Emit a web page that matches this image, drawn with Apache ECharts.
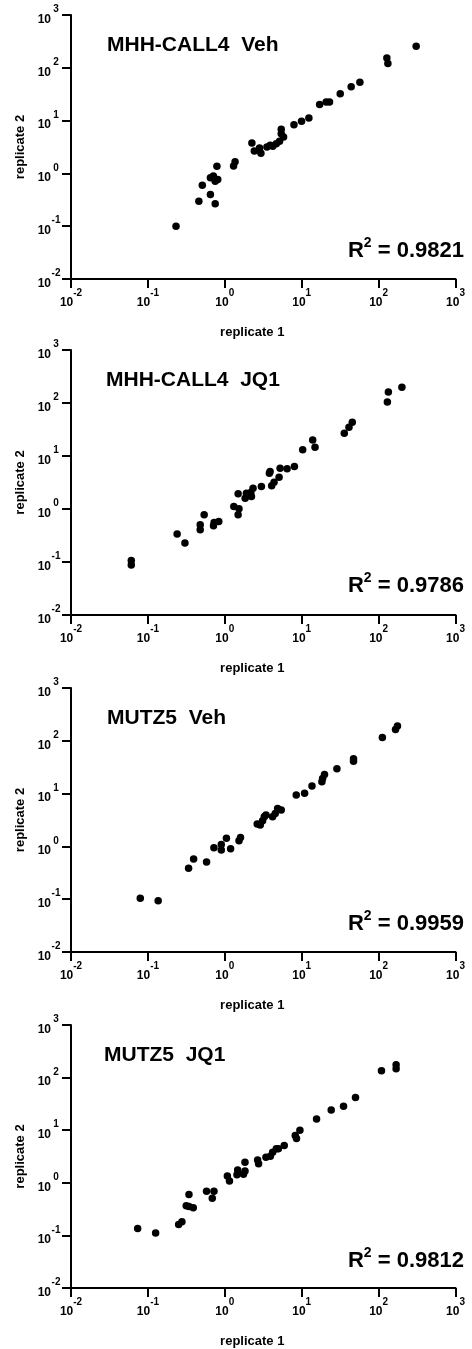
<!DOCTYPE html>
<html><head><meta charset="utf-8">
<script src="https://cdn.jsdelivr.net/npm/echarts@6/dist/echarts.min.js"></script>
<style>html,body{margin:0;padding:0;background:#fff}#c{width:472px;height:1349px}</style>
</head><body><div id="c"></div>
<script>
// ---- data ----
const panelTitles = ['MHH-CALL4  Veh', 'MHH-CALL4  JQ1', 'MUTZ5  Veh', 'MUTZ5  JQ1'];
const r2Values = ['0.9821', '0.9786', '0.9959', '0.9812'];
const xAxisTitle = 'replicate 1';
const yAxisTitle = 'replicate 2';
const axisMin = 0.01;
const axisMax = 1000;

const call4VehRep1 = [0.232,0.46,0.51,0.65,0.65,0.71,0.75,0.75,0.81,0.79,1.30,1.36,2.25,2.42,2.83,2.95,3.53,3.9,4.2,4.67,5.15,5.42,5.42,5.81,7.93,9.95,12.4,17.1,20.8,23.0,31.7,44.0,57.1,128,132,308];
const call4VehRep2 = [0.10,0.296,0.594,0.40,0.83,0.89,0.267,0.71,0.77,1.36,1.38,1.67,3.77,2.66,3.03,2.40,3.16,3.4,3.26,3.66,4.05,6.84,5.66,4.89,8.38,9.68,11.2,20.1,22.5,22.5,32.4,44.0,53.1,153,120,255];

const call4JQ1Rep1 = [0.0608,0.0608,0.240,0.303,0.479,0.479,0.539,0.713,0.726,0.835,1.31,1.53,1.49,1.49,1.84,1.91,2.22,2.18,2.33,2.99,3.80,3.88,4.07,4.37,5.08,5.24,6.46,8.04,10.3,13.9,14.9,35.8,41.2,45.5,130,134,201];
const call4JQ1Rep2 = [0.107,0.0875,0.336,0.228,0.405,0.505,0.778,0.482,0.557,0.582,1.12,1.01,0.778,1.93,1.60,1.99,1.72,2.05,2.47,2.66,4.74,5.09,2.74,3.21,3.99,5.89,5.72,6.34,13.1,20.1,14.7,26.9,34.9,43.4,105,162,198];

const mutz5VehRep1 = [0.0796,0.136,0.338,0.393,0.579,0.722,0.90,0.90,1.05,1.19,1.53,1.60,2.64,2.89,3.10,3.26,3.43,4.18,4.53,4.86,5.42,8.49,10.9,13.6,18.3,18.7,19.8,28.7,47.2,47.2,112,166,176];
const mutz5VehRep2 = [0.104,0.0938,0.384,0.575,0.505,0.944,1.09,0.853,1.42,0.904,1.28,1.48,2.65,2.54,3.06,3.65,3.92,3.65,4.22,5.25,4.88,9.37,10.1,13.9,16.8,19.4,23.1,29.5,41.2,45.6,116,164,190];

const mutz5JQ1Rep1 = [0.0736,0.126,0.251,0.277,0.315,0.342,0.342,0.389,0.579,0.687,0.723,1.08,1.15,1.44,1.47,1.75,1.83,1.83,2.67,2.75,3.43,3.91,4.19,4.68,4.97,5.93,8.24,8.56,9.48,15.6,24.2,35.0,50.1,109,169,169];
const mutz5JQ1Rep2 = [0.136,0.111,0.162,0.182,0.365,0.597,0.354,0.334,0.690,0.509,0.690,1.34,1.08,1.43,1.75,1.45,1.67,2.47,2.70,2.30,3.07,3.21,3.82,4.42,4.42,5.11,7.89,6.92,9.93,16.3,24.1,28.6,41.8,135,176,148];

// ---- layout ----
const rep1Sets = [call4VehRep1, call4JQ1Rep1, mutz5VehRep1, mutz5JQ1Rep1];
const rep2Sets = [call4VehRep2, call4JQ1Rep2, mutz5VehRep2, mutz5JQ1Rep2];
const gridTops = [15, 350, 688, 1025];
const gridHeights = [264, 265, 264, 264];
const titleLefts = [107, 106, 107, 104];
const FONT = '"Liberation Sans", Arial, Helvetica, sans-serif';

const chart = echarts.init(document.getElementById('c'), null, {renderer: 'canvas'});

const baseTok = {fontSize: 12, fontWeight: 'bold', fontFamily: FONT, color: '#000', lineHeight: 21, verticalAlign: 'bottom'};
const supTok = {fontSize: 10, fontWeight: 'bold', fontFamily: FONT, color: '#000', lineHeight: 10, verticalAlign: 'top'};
const richX = {b: baseTok, s: supTok};
const richY = {b: baseTok, s: Object.assign({}, supTok, {width: 10, align: 'left'})};
const expOf = v => Math.round(Math.log10(v));

const grids = [], xAxes = [], yAxes = [], series = [], graphics = [];
for (let i = 0; i < 4; i++) {
  grids.push({left: 71, right: 16.5, top: gridTops[i], height: gridHeights[i], containLabel: false});
  const common = {
    type: 'log', logBase: 10, min: axisMin, max: axisMax, gridIndex: i,
    splitNumber: 5,
    axisLine: {show: true, onZero: false, lineStyle: {color: '#000', width: 2}},
    axisTick: {show: true, inside: false, length: 9, lineStyle: {color: '#000', width: 2}},
    minorTick: {show: false},
    splitLine: {show: false},
    nameTextStyle: {fontFamily: FONT, fontWeight: 'bold', fontSize: 13, color: '#000'}
  };
  xAxes.push(Object.assign({}, common, {
    name: xAxisTitle, nameLocation: 'middle', nameGap: 47,
    nameTextStyle: Object.assign({}, common.nameTextStyle, {padding: [0, 22, 0, 0]}),
    axisLabel: {show: true, margin: 9, showMinLabel: true, showMaxLabel: true, hideOverlap: false,
      formatter: v => '{b|10}{s|' + expOf(v) + '}', rich: richX}
  }));
  yAxes.push(Object.assign({}, common, {
    name: yAxisTitle, nameLocation: 'middle', nameGap: 35,
    axisLabel: {show: true, margin: 10, showMinLabel: true, showMaxLabel: true, hideOverlap: false,
      formatter: v => '{b|10}{s|' + expOf(v) + '}', rich: richY}
  }));
  series.push({
    type: 'scatter', xAxisIndex: i, yAxisIndex: i,
    symbol: 'circle', symbolSize: 7.5,
    itemStyle: {color: '#000', opacity: 1},
    silent: true, animation: false,
    data: rep1Sets[i].map((x, k) => [x, rep2Sets[i][k]])
  });
  graphics.push({
    type: 'text', left: titleLefts[i], top: gridTops[i] + 20,
    style: {text: panelTitles[i], fill: '#000', font: 'bold 21px ' + FONT}
  });
  graphics.push({
    type: 'text', x: 464, y: gridTops[i] + 221,
    style: {
      text: '{r|R}{s|2}{r| = ' + r2Values[i] + '}',
      align: 'right', verticalAlign: 'top',
      rich: {
        r: {fontSize: 22, fontWeight: 'bold', fontFamily: FONT, fill: '#000', lineHeight: 26, verticalAlign: 'bottom'},
        s: {fontSize: 14, fontWeight: 'bold', fontFamily: FONT, fill: '#000', lineHeight: 14, verticalAlign: 'top'}
      }
    }
  });
}

chart.setOption({
  backgroundColor: '#fff',
  animation: false,
  grid: grids, xAxis: xAxes, yAxis: yAxes, series: series, graphic: graphics
});
</script></body></html>
